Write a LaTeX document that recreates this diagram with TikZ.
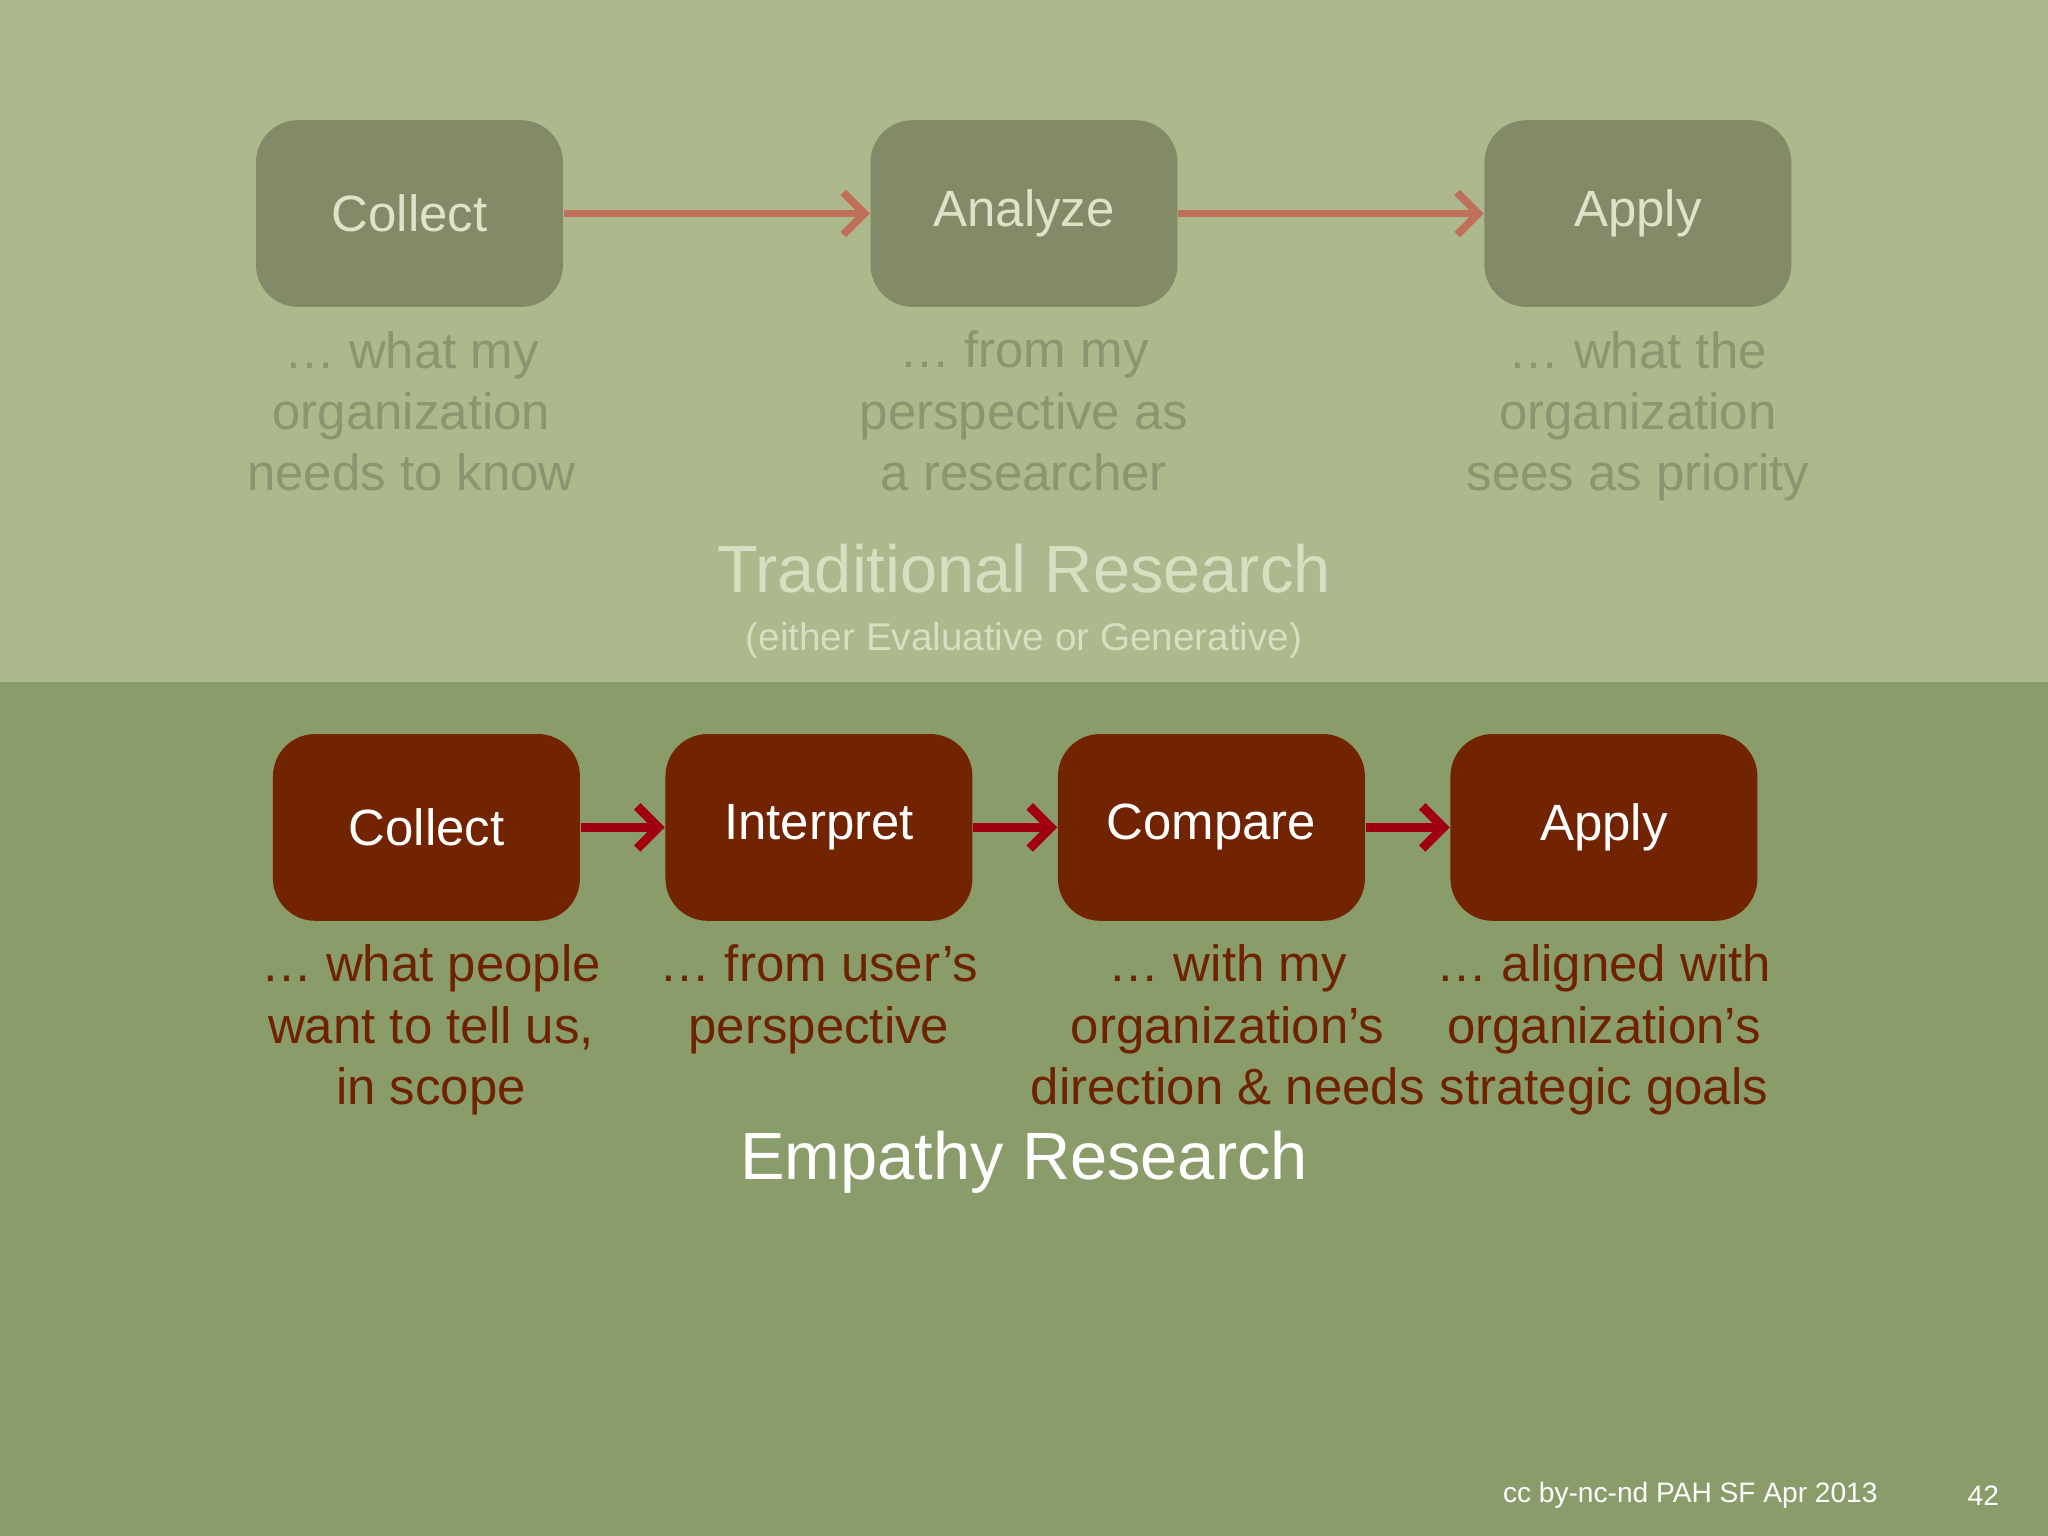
\documentclass[tikz,border=0pt]{standalone}
\usepackage{fontspec}
\setmainfont{Liberation Sans}
\usetikzlibrary{arrows.meta}
\definecolor{topbg}{HTML}{ADB88C}
\definecolor{botbg}{HTML}{8A9C6A}
\definecolor{topbox}{HTML}{838A68}
\definecolor{toptxt}{HTML}{DDE2C8}
\definecolor{topdesc}{HTML}{8C9572}
\definecolor{toparr}{HTML}{C0705A}
\definecolor{botbox}{HTML}{722400}
\definecolor{botdesc}{HTML}{6E2300}
\definecolor{botarr}{HTML}{A00010}
\definecolor{ttl}{HTML}{D8DEC2}
\begin{document}
\begin{tikzpicture}[x=0.013061cm,y=-0.013061cm,
  tbox/.style={fill=topbox,rounded corners=12pt,minimum width=235*0.013061cm,minimum height=143*0.013061cm,text=toptxt,font=\fontsize{14.5}{17}\selectfont},
  bbox/.style={fill=botbox,rounded corners=12pt,minimum width=235*0.013061cm,minimum height=143*0.013061cm,text=white,font=\fontsize{14.5}{17}\selectfont},
  tdesc/.style={text=topdesc,align=center,font=\fontsize{14.5}{17.4}\selectfont,anchor=north},
  bdesc/.style={text=botdesc,align=center,font=\fontsize{14.5}{17.4}\selectfont,anchor=north},
  tarr/.style={draw=toparr,line width=2.2pt,-{Straight Barb[length=6pt,width=12pt]}},
  barr/.style={draw=botarr,line width=2.6pt,-{Straight Barb[length=6pt,width=12pt]}}]
\fill[topbg] (0,0) rectangle (1568,522);
\fill[botbg] (0,522) rectangle (1568,1176);
\useasboundingbox (0,0) rectangle (1568,1176);
\node[tbox] (t1) at (313.5,163.5) {Collect};
\node[tbox] (t2) at (784,163.5) {Analyze};
\node[tbox] (t3) at (1254,163.5) {Apply};
\draw[tarr] (t1) -- (t2);
\draw[tarr] (t2) -- (t3);
\node[tdesc] (d1) at (315,244) {… what my\\organization\\needs to know};
\node[tdesc] (d2) at (784,244) {… from my\\perspective as\\a researcher};
\node[tdesc] (d3) at (1254,244) {… what the\\organization\\sees as priority};
\node[text=ttl,font=\fontsize{19}{22}\selectfont] (tt) at (784,435) {Traditional Research};
\node[text=ttl,font=\fontsize{11}{13}\selectfont] (ts) at (784,490) {(either Evaluative or Generative)};
\node[bbox] (b1) at (326.5,633.5) {Collect};
\node[bbox] (b2) at (627,633.5) {Interpret};
\node[bbox] (b3) at (927.5,633.5) {Compare};
\node[bbox] (b4) at (1228,633.5) {Apply};
\draw[barr] (b1) -- (b2);
\draw[barr] (b2) -- (b3);
\draw[barr] (b3) -- (b4);
\node[bdesc] (e1) at (330,714) {… what people\\want to tell us,\\in scope};
\node[bdesc] (e2) at (627,714) {… from user’s\\perspective};
\node[bdesc] (e3) at (940,714) {… with my\\organization’s\\direction \& needs};
\node[bdesc] (e4) at (1228,714) {… aligned with\\organization’s\\strategic goals};
\node[text=white,font=\fontsize{19}{22}\selectfont] (et) at (784,890) {Empathy Research};
\node[text=white,font=\fontsize{8}{10}\selectfont,anchor=east] (f1) at (1447,1145) {cc by-nc-nd PAH SF Apr 2013};
\node[text=white,font=\fontsize{8}{10}\selectfont,anchor=east] (f2) at (1540,1145) {42};
\end{tikzpicture}
\end{document}
